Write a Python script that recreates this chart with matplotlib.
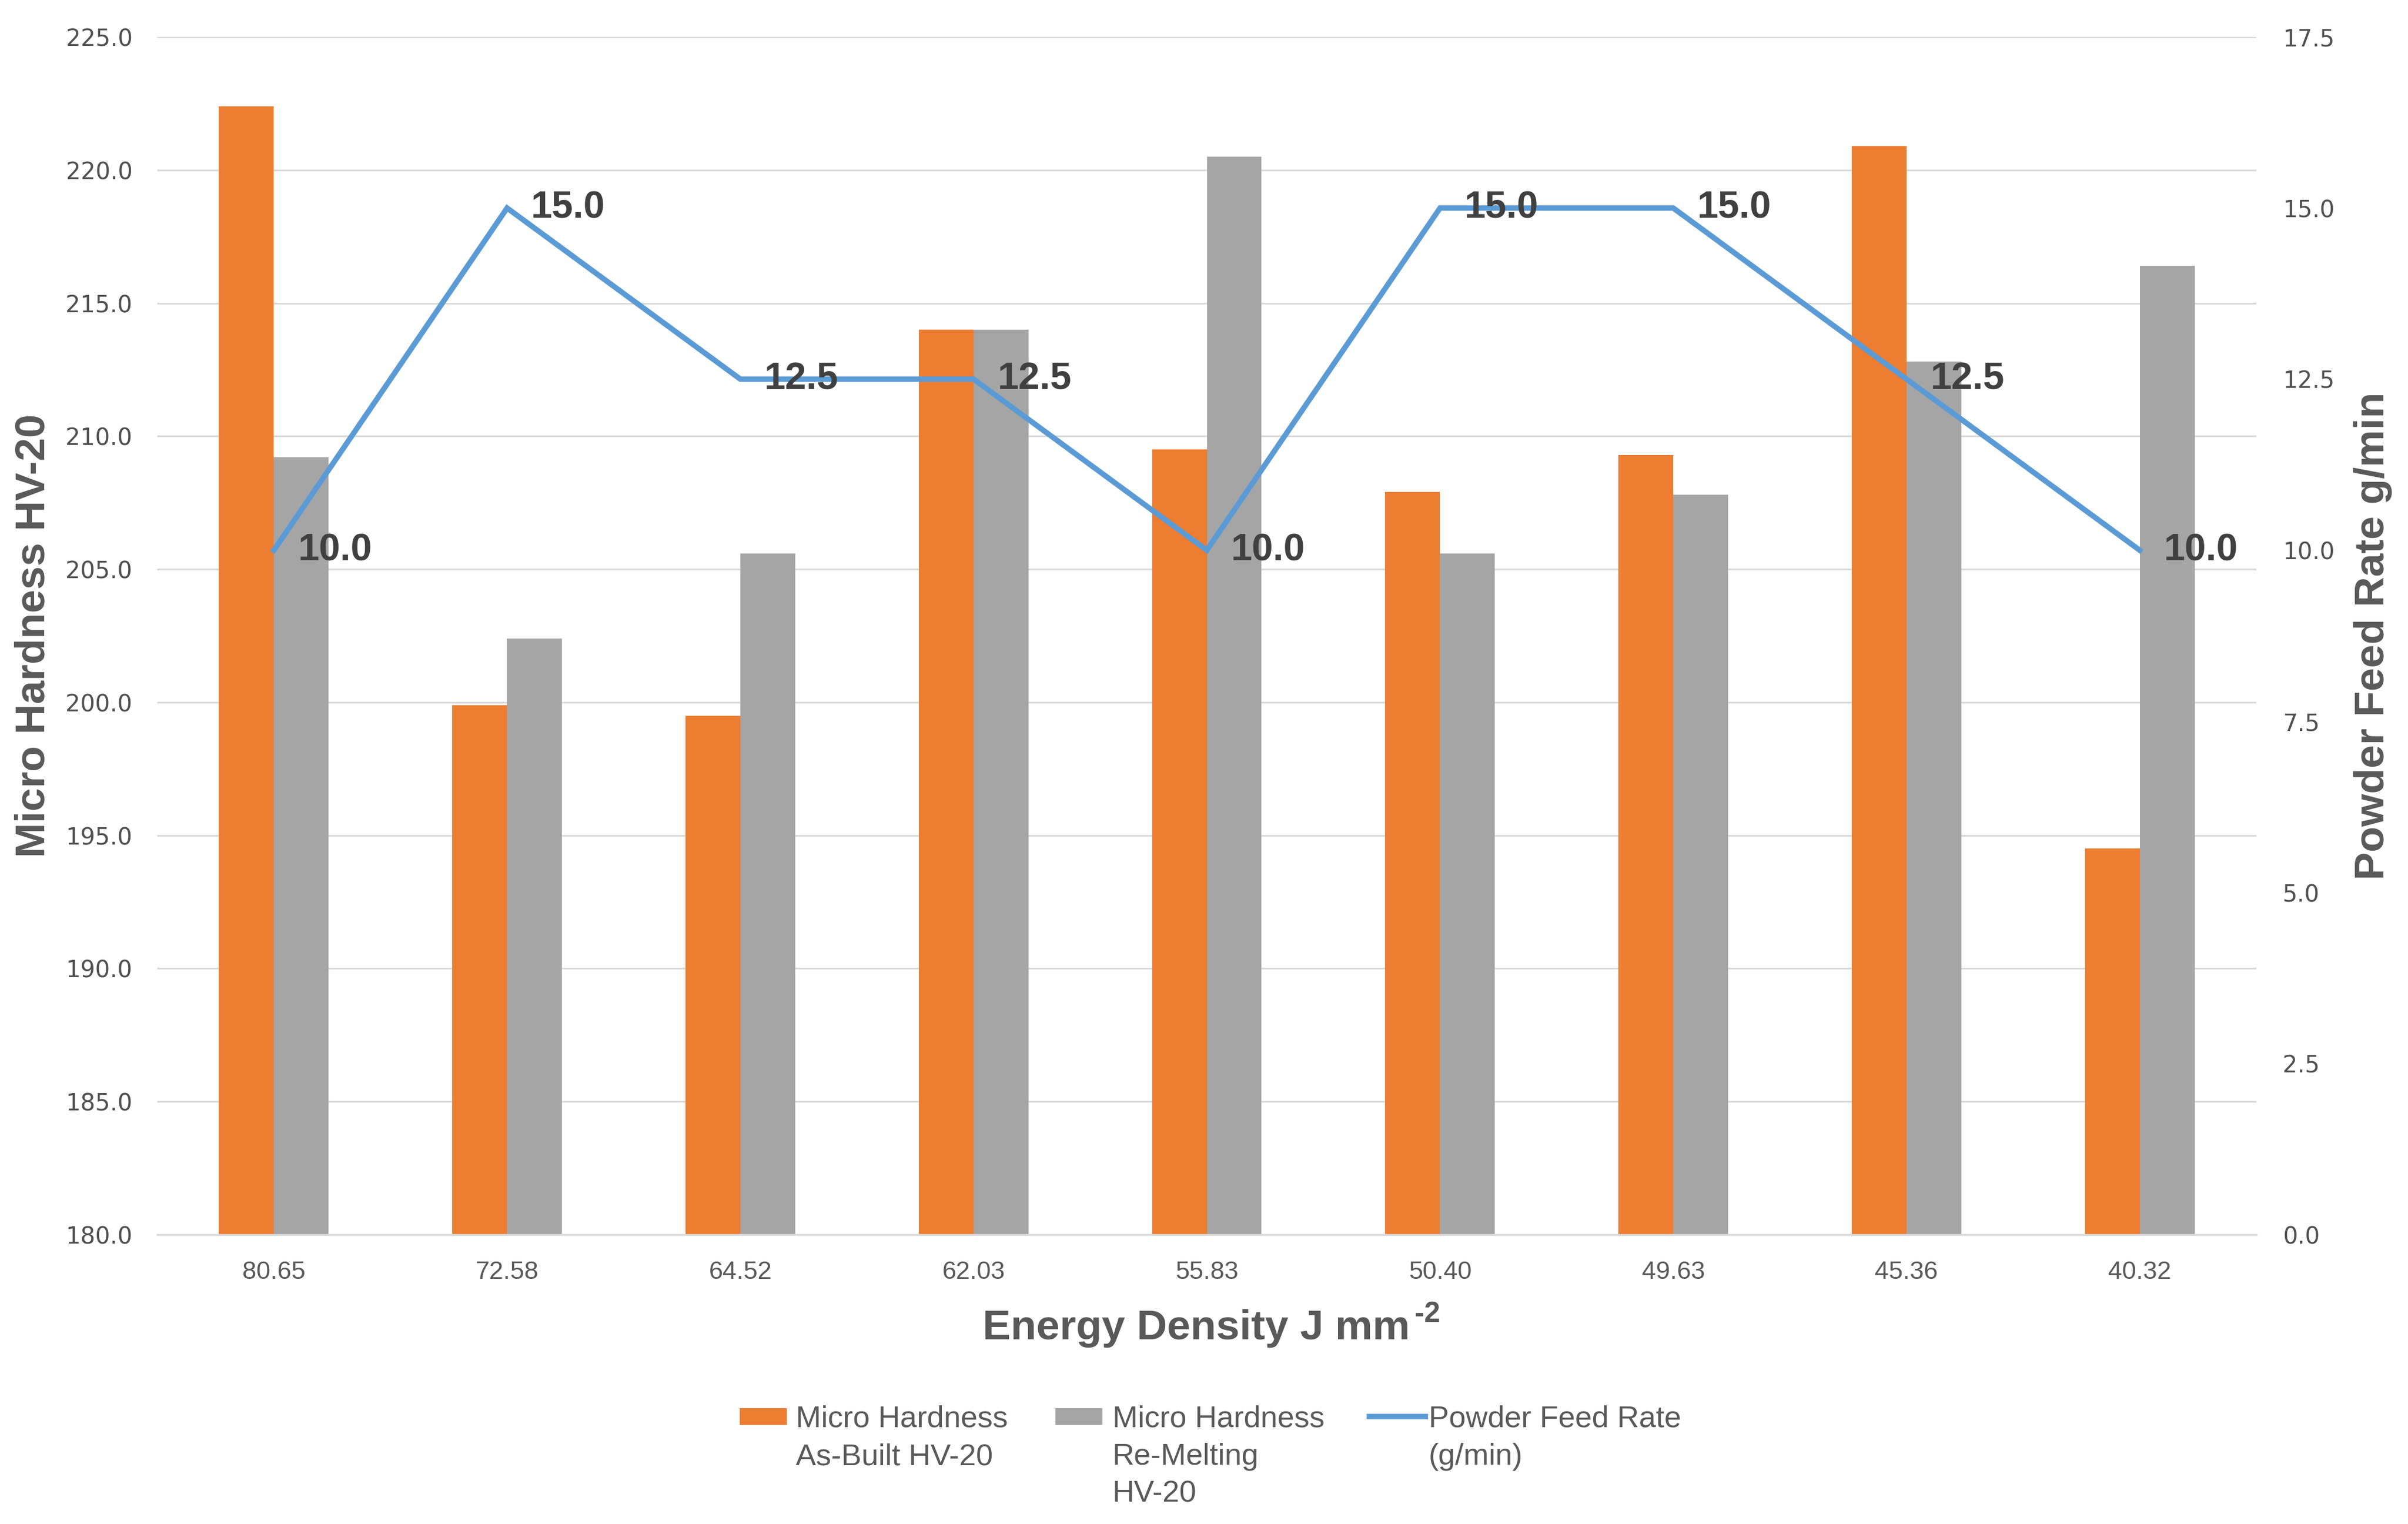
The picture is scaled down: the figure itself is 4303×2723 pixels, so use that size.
import matplotlib
matplotlib.use('Agg')
import matplotlib.pyplot as plt
from matplotlib.patches import Rectangle
from matplotlib.lines import Line2D
import numpy as np

# ---------------- data ----------------
categories = ['80.65', '72.58', '64.52', '62.03', '55.83', '50.40', '49.63', '45.36', '40.32']
as_built = [222.4, 199.9, 199.5, 214.0, 209.5, 207.9, 209.3, 220.9, 194.5]
re_melting = [209.2, 202.4, 205.6, 214.0, 220.5, 205.6, 207.8, 212.8, 216.4]
feed_rate = [10.0, 15.0, 12.5, 12.5, 10.0, 15.0, 15.0, 12.5, 10.0]
left_ticks = [180.0, 185.0, 190.0, 195.0, 200.0, 205.0, 210.0, 215.0, 220.0, 225.0]
right_ticks = [0.0, 2.5, 5.0, 7.5, 10.0, 12.5, 15.0, 17.5]
legend_labels = [["Micro Hardness", "As-Built HV-20"],
                 ["Micro Hardness", "Re-Melting", "HV-20"],
                 ["Powder Feed Rate", "(g/min)"]]

# ---------------- style ----------------
ORANGE = '#ED7D31'
GRAY = '#A5A5A5'
BLUE = '#5B9BD5'
TXT = '#595959'
DLBL = '#404040'
GRID = '#D9D9D9'
SANS = ['Liberation Sans', 'DejaVu Sans']

W, H = 4303, 2723
DPI = 100
fig = plt.figure(figsize=(W / DPI, H / DPI), dpi=DPI)
fig.patch.set_facecolor('white')

L, R, T, B = 281, 4032, 66, 2206
ax = fig.add_axes([L / W, 1 - B / H, (R - L) / W, (B - T) / H])
ax2 = ax.twinx()

x = np.arange(len(categories))
bw = 0.235
ax.bar(x - bw / 2, as_built, width=bw, color=ORANGE, zorder=2)
ax.bar(x + bw / 2, re_melting, width=bw, color=GRAY, zorder=2)

ax.set_xlim(-0.5, len(categories) - 0.5)
ax.set_ylim(180, 225)
ax.set_yticks(left_ticks)
ax.set_yticklabels([f'{v:.1f}' for v in left_ticks])
ax.set_xticks(x)
ax.set_xticklabels(categories, family=SANS, fontsize=32.5, color=TXT)
ax.tick_params(axis='y', length=0, pad=32, labelsize=30, labelcolor='#505050')
ax.tick_params(axis='x', length=0, pad=34)
for lab in ax.get_yticklabels():
    lab.set_family('DejaVu Sans')

ax.yaxis.grid(True, color=GRID, lw=2.2, zorder=0)
ax.set_axisbelow(True)
for s in ['top', 'right', 'left']:
    ax.spines[s].set_visible(False)
ax.spines['bottom'].set_color(GRID)
ax.spines['bottom'].set_linewidth(2.4)

# secondary axis line
ax2.plot(x, feed_rate, color=BLUE, lw=7, solid_joinstyle='miter', zorder=3)
ax2.set_ylim(0, 17.5)
ax2.set_yticks(right_ticks)
ax2.set_yticklabels([f'{v:.1f}' for v in right_ticks])
ax2.tick_params(axis='y', length=0, pad=34, labelsize=30, labelcolor='#505050')
for lab in ax2.get_yticklabels():
    lab.set_family('DejaVu Sans')
for s in ['top', 'right', 'left', 'bottom']:
    ax2.spines[s].set_visible(False)

for xi, v in zip(x, feed_rate):
    ax2.annotate(f'{v:.1f}', (xi, v), xytext=(31, 0), textcoords='offset points',
                 ha='left', va='center', fontsize=49, fontweight='bold',
                 color=DLBL, family=SANS)

# axis titles
xlab = fig.text((2168 - 30) / W, 1 - 2374 / H, 'Energy Density J mm', ha='center', va='center',
                family=SANS, fontsize=54, fontweight='bold', color=TXT)
ax.set_ylabel('Micro Hardness HV-20', family=SANS, fontsize=54, fontweight='bold', color=TXT)
ax.yaxis.label.set_va('center')
ax.yaxis.set_label_coords((60 - L) / (R - L), 0.5)
ax2.set_ylabel('Powder Feed Rate g/min', family=SANS, fontsize=54, fontweight='bold', color=TXT)
ax2.yaxis.label.set_va('center')
ax2.yaxis.set_label_coords((4240 - L) / (R - L), 0.5)

# superscript placed after the x title
fig.canvas.draw()
bb = xlab.get_window_extent(renderer=fig.canvas.get_renderer())
fig.text((bb.x1 + 8) / W, (bb.y1 + 16) / H, '-2', ha='left', va='top',
         family=SANS, fontsize=37, fontweight='bold', color=TXT)

# legend (manual, handles aligned with first text line)
def fx(px):
    return px / W

def fy(py):
    return 1 - py / H

line_base = [2550, 2617, 2684]
patch_w, patch_h = 84, 30
entries = [
    ('patch', ORANGE, 1322, 1422),
    ('patch', GRAY, 1886, 1988),
    ('line', BLUE, 2447, 2553),
]
for (kind, col, hx, tx), lines in zip(entries, legend_labels):
    if kind == 'patch':
        fig.patches.append(Rectangle((fx(hx), fy(2531 + patch_h / 2)), patch_w / W, patch_h / H,
                                     transform=fig.transFigure, facecolor=col, edgecolor='none'))
    else:
        fig.lines.append(Line2D([fx(hx), fx(hx + 100)], [fy(2531), fy(2531)],
                                transform=fig.transFigure, color=col, lw=7))
    for k, txt in enumerate(lines):
        fig.text(fx(tx), fy(line_base[k]), txt, ha='left', va='baseline',
                 fontsize=39, color=TXT, family=SANS)

fig.savefig('out.png', dpi=DPI, facecolor='white')
